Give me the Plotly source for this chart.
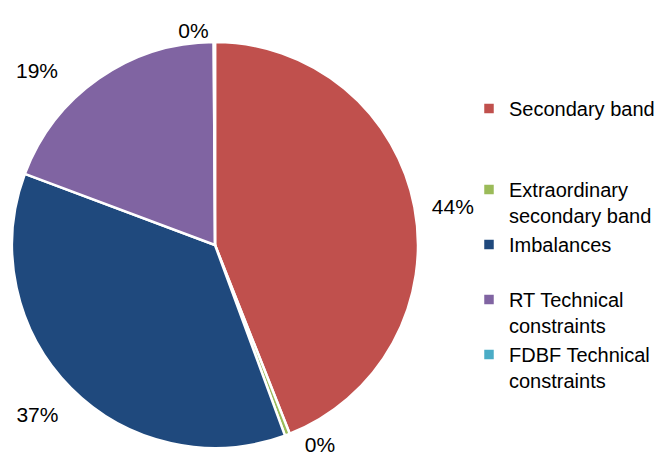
import plotly.graph_objects as go

labels = ["Secondary band<br> <br> ", "Extraordinary<br>secondary band", "Imbalances<br> ",
          "RT Technical<br>constraints", "FDBF Technical<br>constraints"]
values = [44.0, 0.4, 36.3, 19.2, 0.1]
NB = "\u00a0"
text_labels = [NB * 2 + "44%", NB * 2 + "0%", NB + "<br>37%", "19%" + NB * 6, "0%"]
colors = ["#C0504D", "#9BBB59", "#1F497D", "#8064A2", "#4BACC6"]

W, H = 665, 474
cx, cy, r = 215, 245, 203
FONT = "Liberation Sans, Arial, sans-serif"

fig = go.Figure(go.Pie(
    labels=labels,
    values=values,
    text=text_labels,
    textinfo="text",
    textposition="outside",
    sort=False,
    direction="clockwise",
    rotation=0,
    marker=dict(colors=colors, line=dict(color="white", width=2.5)),
    textfont=dict(family=FONT, size=21, color="#000000"),
    domain=dict(x=[(cx - r) / W, (cx + r) / W], y=[(H - cy - r) / H, (H - cy + r) / H]),
    showlegend=True,
))

fig.update_layout(
    width=W, height=H,
    margin=dict(l=0, r=0, t=0, b=0),
    paper_bgcolor="white",
    plot_bgcolor="white",
    font=dict(family=FONT, size=20, color="#000000"),
    legend=dict(
        x=469 / W, y=1 - 89 / H, xanchor="left", yanchor="top",
        valign="top",
        font=dict(family=FONT, size=20, color="#000000"),
        bgcolor="rgba(0,0,0,0)",
    ),
)

fig.write_html("out.html", config={"displayModeBar": False},
               post_script="document.body.style.margin='0';")
